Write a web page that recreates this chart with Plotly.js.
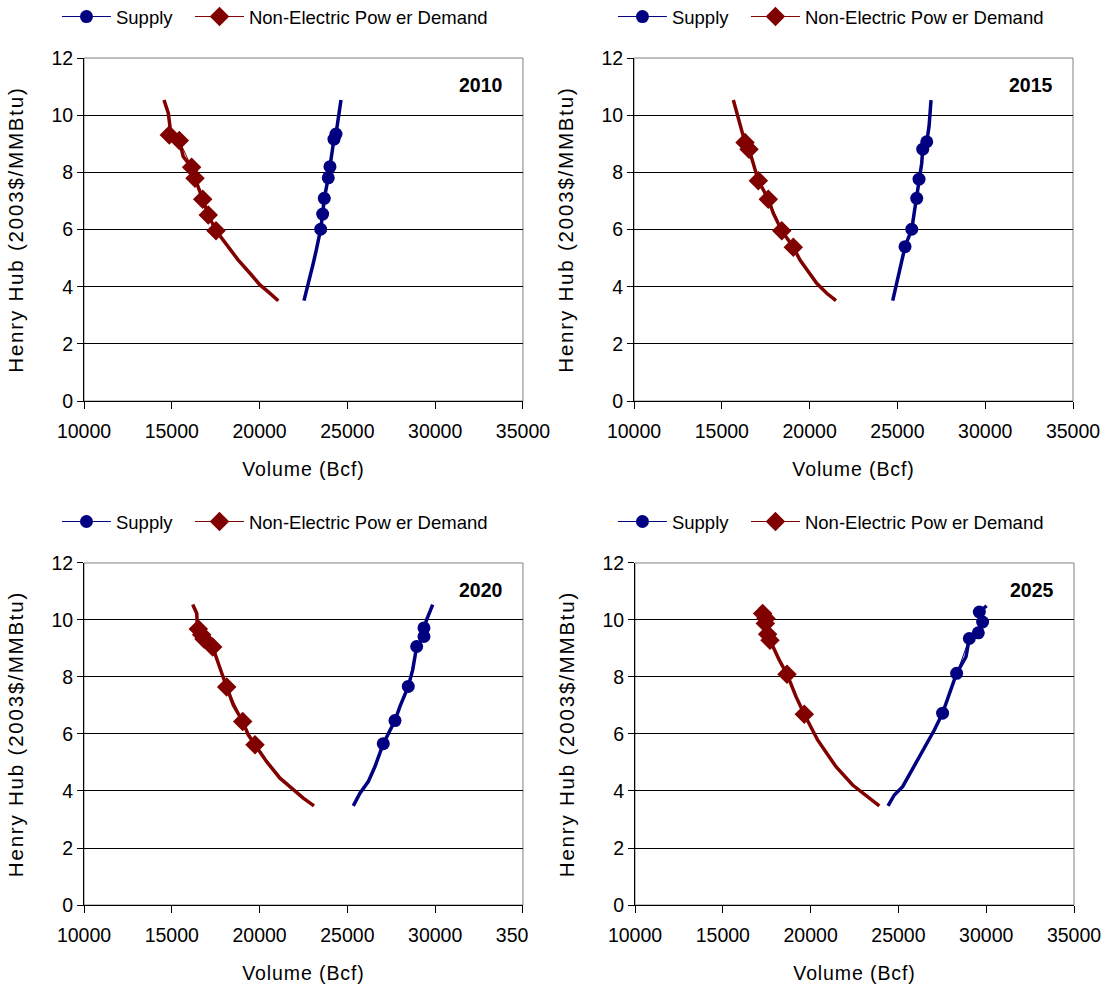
<!DOCTYPE html>
<html>
<head>
<meta charset="utf-8">
<script src="https://cdn.plot.ly/plotly-3.0.1.min.js"></script>
<style>
html,body{margin:0;padding:0;background:#fff;}
#chart{width:1107px;height:987px;}
text.ytitle, text.y2title, text.y3title, text.y4title { letter-spacing: 1.8px; }
text.xtitle, text.x2title, text.x3title, text.x4title { letter-spacing: 0.9px; }
</style>
</head>
<body>
<div id="chart"></div>
<script>
// ---- data (Volume in Bcf, Henry Hub price in 2003$/MMBtu) ----
const years = ['2010', '2015', '2020', '2025'];
const seriesNames = ['Supply', 'Non-Electric Pow er Demand'];

// 2010
const supply2010CurveX = [22528, 22680, 22870, 23058, 23250, 23478, 23592, 23684, 23912, 24009, 24197, 24237, 24351, 24482, 24540, 24636];
const supply2010CurveY = [3.51, 3.88, 4.29, 4.82, 5.34, 6.01, 6.54, 7.09, 7.81, 8.20, 8.90, 9.16, 9.34, 9.83, 10.18, 10.53];
const supply2010MarkX = [23478, 23592, 23684, 23912, 24009, 24237, 24351];
const supply2010MarkY = [6.01, 6.54, 7.09, 7.81, 8.20, 9.16, 9.34];
const demand2010CurveX = [14556, 14801, 14897, 14858, 15427, 15655, 16131, 16321, 16759, 17078, 17517, 17933, 18411, 18787, 19453, 20023, 20496, 21066];
const demand2010CurveY = [10.53, 10.07, 9.60, 9.31, 9.11, 8.55, 8.18, 7.79, 7.06, 6.51, 5.96, 5.63, 5.22, 4.93, 4.47, 4.06, 3.82, 3.51];
const demand2010MarkX = [14858, 15427, 16131, 16321, 16759, 17078, 17517];
const demand2010MarkY = [9.31, 9.11, 8.18, 7.79, 7.06, 6.51, 5.96];

// 2015
const supply2015CurveX = [24731, 24863, 25051, 25245, 25433, 25815, 25945, 26099, 26230, 26384, 26441, 26669, 26800, 26857, 26914];
const supply2015CurveY = [3.51, 3.88, 4.35, 4.82, 5.40, 6.01, 6.57, 7.09, 7.76, 8.32, 8.81, 9.07, 9.60, 10.07, 10.53];
const supply2015MarkX = [25433, 25815, 26099, 26230, 26441, 26669];
const supply2015MarkY = [5.40, 6.01, 7.09, 7.76, 8.81, 9.07];
const demand2015CurveX = [15655, 15849, 16036, 16321, 16549, 16795, 17079, 17648, 17933, 18411, 19072, 19453, 20023, 20404, 20974, 21503];
const demand2015CurveY = [10.53, 10.07, 9.60, 9.04, 8.81, 8.26, 7.71, 7.06, 6.57, 5.96, 5.38, 4.93, 4.47, 4.12, 3.77, 3.51];
const demand2015MarkX = [16321, 16549, 17079, 17648, 18411, 19072];
const demand2015MarkY = [9.04, 8.81, 7.71, 7.06, 5.96, 5.38];

// 2020
const supply2020CurveX = [25336, 25717, 26190, 26572, 27045, 27426, 27711, 27995, 28468, 28719, 28947, 29362, 29362, 29517, 29859];
const supply2020CurveY = [3.48, 3.92, 4.33, 4.86, 5.66, 6.15, 6.47, 6.97, 7.67, 8.25, 9.07, 9.42, 9.72, 10.01, 10.54];
const supply2020MarkX = [27045, 27711, 28468, 28947, 29362, 29362];
const supply2020MarkY = [5.66, 6.47, 7.67, 9.07, 9.42, 9.72];
const demand2020CurveX = [16190, 16418, 16452, 16509, 16703, 16834, 17329, 17557, 17842, 18126, 18502, 19037, 19356, 19738, 20404, 21162, 21919, 22489, 23098];
const demand2020CurveY = [10.54, 10.24, 9.89, 9.68, 9.48, 9.33, 9.05, 8.61, 8.14, 7.65, 7.02, 6.44, 5.97, 5.62, 5.03, 4.45, 4.04, 3.75, 3.48];
const demand2020MarkX = [16509, 16703, 16834, 17329, 18126, 19037, 19738];
const demand2020MarkY = [9.68, 9.48, 9.33, 9.05, 7.65, 6.44, 5.62];

// 2025
const supply2025CurveX = [24407, 24766, 25239, 25718, 26190, 26663, 27045, 27517, 27899, 28315, 28850, 29038, 29550, 29795, 29607, 30023];
const supply2025CurveY = [3.48, 3.86, 4.15, 4.68, 5.20, 5.67, 6.14, 6.73, 7.37, 8.13, 8.71, 9.35, 9.55, 9.93, 10.28, 10.50];
const supply2025MarkX = [27517, 28315, 29038, 29550, 29795, 29607];
const supply2025MarkY = [6.73, 8.13, 9.35, 9.55, 9.93, 10.28];
const demand2025CurveX = [17136, 17267, 17460, 17420, 17551, 17688, 18218, 18656, 19168, 19641, 20398, 21446, 22392, 23155, 23912];
const demand2025CurveY = [10.46, 10.23, 10.05, 9.88, 9.50, 9.29, 8.59, 8.10, 7.31, 6.69, 5.79, 4.85, 4.21, 3.86, 3.48];
const demand2025MarkX = [17267, 17460, 17420, 17551, 17688, 18656, 19641];
const demand2025MarkY = [10.23, 10.05, 9.88, 9.50, 9.29, 8.10, 6.69];

const xTickVals = [10000, 15000, 20000, 25000, 30000, 35000];
const xTickText = ['10000', '15000', '20000', '25000', '30000', '35000'];
const xTickTextClipped = ['10000', '15000', '20000', '25000', '30000', '350\u00a0\u00a0\u00a0\u00a0'];

// ---- styling ----
const FONT = 'Liberation Sans, Arial, sans-serif';
const SUPPLY_COLOR = '#000080';
const DEMAND_COLOR = '#800000';

const panels = [
  {year: years[0], sx: supply2010CurveX, sy: supply2010CurveY, smx: supply2010MarkX, smy: supply2010MarkY,
   dx: demand2010CurveX, dy: demand2010CurveY, dmx: demand2010MarkX, dmy: demand2010MarkY},
  {year: years[1], sx: supply2015CurveX, sy: supply2015CurveY, smx: supply2015MarkX, smy: supply2015MarkY,
   dx: demand2015CurveX, dy: demand2015CurveY, dmx: demand2015MarkX, dmy: demand2015MarkY},
  {year: years[2], sx: supply2020CurveX, sy: supply2020CurveY, smx: supply2020MarkX, smy: supply2020MarkY,
   dx: demand2020CurveX, dy: demand2020CurveY, dmx: demand2020MarkX, dmy: demand2020MarkY},
  {year: years[3], sx: supply2025CurveX, sy: supply2025CurveY, smx: supply2025MarkX, smy: supply2025MarkY,
   dx: demand2025CurveX, dy: demand2025CurveY, dmx: demand2025MarkX, dmy: demand2025MarkY}
];

const xDomains = [[0, 0.4434], [0.5556, 0.999], [0, 0.4434], [0.5566, 1.0]];
const yDomains = [[0.5950, 1.0], [0.5950, 1.0], [0, 0.4038], [0, 0.4038]];
const legendPos = [
  {x: -0.0273, y: 1.0484}, {x: 0.5343, y: 1.0484},
  {x: -0.0273, y: 0.4522}, {x: 0.5343, y: 0.4522}
];

const traces = [];
const layout = {
  width: 1107, height: 987,
  margin: {l: 84, r: 33, t: 58, b: 82, autoexpand: false},
  paper_bgcolor: '#ffffff', plot_bgcolor: 'rgba(0,0,0,0)',
  font: {family: FONT, size: 19, color: '#000'},
  showlegend: true,
  annotations: [], shapes: []
};

panels.forEach((p, i) => {
  const n = i + 1;
  const xa = n === 1 ? 'x' : 'x' + n;
  const ya = n === 1 ? 'y' : 'y' + n;
  const leg = n === 1 ? 'legend' : 'legend' + n;
  // thick curves
  traces.push({x: p.sx, y: p.sy, xaxis: xa, yaxis: ya, mode: 'lines', showlegend: false, hoverinfo: 'skip',
    line: {color: SUPPLY_COLOR, width: 3.5}});
  traces.push({x: p.dx, y: p.dy, xaxis: xa, yaxis: ya, mode: 'lines', showlegend: false, hoverinfo: 'skip',
    line: {color: DEMAND_COLOR, width: 3.5}});
  // marker series (legend entries)
  traces.push({x: p.smx, y: p.smy, xaxis: xa, yaxis: ya, mode: 'lines+markers', name: seriesNames[0], legend: leg,
    legendwidth: 69,
    line: {color: SUPPLY_COLOR, width: 1}, marker: {symbol: 'circle', size: 13, color: SUPPLY_COLOR}});
  traces.push({x: p.dmx, y: p.dmy, xaxis: xa, yaxis: ya, mode: 'lines+markers', name: seriesNames[1], legend: leg,
    legendwidth: 260,
    line: {color: DEMAND_COLOR, width: 1}, marker: {symbol: 'diamond', size: 15, color: DEMAND_COLOR}});

  const axSuffix = n === 1 ? '' : String(n);
  layout['xaxis' + axSuffix] = {
    domain: xDomains[i], anchor: ya, range: [10000, 35000],
    tickmode: 'array', tickvals: xTickVals, ticktext: n === 3 ? xTickTextClipped : xTickText,
    ticks: 'outside', ticklen: 7, tickcolor: '#000', tickwidth: 1, ticklabelstandoff: 6,
    showline: true, linecolor: '#000', linewidth: 1, showgrid: false, zeroline: false,
    tickfont: {family: FONT, size: 19.5, color: '#000'},
    title: {text: 'Volume (Bcf)', font: {family: FONT, size: 19.5, color: '#000'}, standoff: 20},
    fixedrange: true
  };
  layout['yaxis' + axSuffix] = {
    domain: yDomains[i], anchor: xa, range: [0, 12], dtick: 2, tick0: 0,
    ticks: 'outside', ticklen: 6, tickcolor: '#000', tickwidth: 1,
    showline: true, linecolor: '#000', linewidth: 1,
    showgrid: true, gridcolor: '#000', gridwidth: 1, zeroline: false,
    tickfont: {family: FONT, size: 19.5, color: '#000'},
    title: {text: 'Henry Hub (2003$/MMBtu)', font: {family: FONT, size: 20.5, color: '#000'}, standoff: 22},
    fixedrange: true
  };
  layout[leg] = {
    orientation: 'h', x: legendPos[i].x, y: legendPos[i].y, xanchor: 'left', yanchor: 'middle',
    itemwidth: 49,
    font: {family: FONT, size: 18.5, color: '#000'}, bgcolor: 'rgba(0,0,0,0)', borderwidth: 0
  };
  layout.annotations.push({
    text: '<b>' + p.year + '</b>', xref: xa + ' domain', yref: ya + ' domain',
    x: 0.904, y: 0.921, xanchor: 'center', yanchor: 'middle', showarrow: false,
    font: {family: FONT, size: 19.5, color: '#000'}
  });
  layout.shapes.push({
    type: 'rect', xref: xa + ' domain', yref: ya + ' domain', x0: 0, x1: 1, y0: 0, y1: 1,
    line: {color: '#808080', width: 1}, layer: 'below'
  });
});

Plotly.newPlot('chart', traces, layout, {displayModeBar: false, staticPlot: true});
</script>
</body>
</html>
